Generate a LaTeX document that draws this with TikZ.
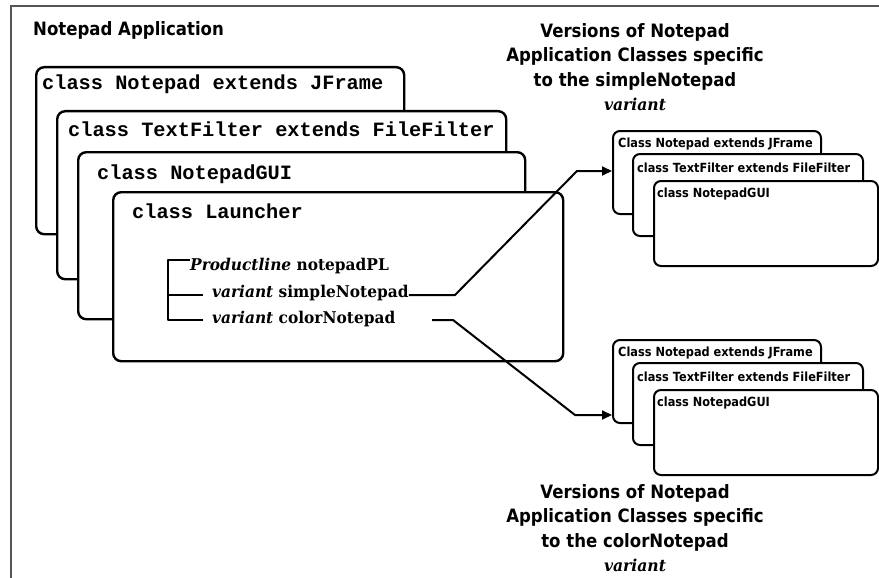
\documentclass[tikz,border=0pt]{standalone}
\usepackage{fontspec}
\usetikzlibrary{arrows.meta}
\newfontfamily\uifont{DejaVu Sans}[FakeStretch=0.9]
\newfontfamily\codefont{Liberation Mono}
\newfontfamily\treefont{DejaVu Serif}[FakeStretch=0.95]
\definecolor{framegray}{HTML}{555555}
\tikzset{
  bigbox/.style={draw, fill=white, line width=2.4pt, rounded corners=8pt,
    anchor=north west, inner sep=0pt},
  smallbox/.style={draw, fill=white, line width=2pt, rounded corners=7pt,
    anchor=north west, inner sep=0pt},
  codelabel/.style={anchor=base west, inner sep=0pt,
    font=\codefont\bfseries\fontsize{20.3}{24}\selectfont},
  smalllabel/.style={anchor=base west, inner sep=0pt,
    font=\uifont\bfseries\fontsize{12.6}{15}\selectfont},
  treelabel/.style={anchor=base west, inner sep=0pt,
    font=\treefont\bfseries\fontsize{16.2}{22}\selectfont},
  heading/.style={inner sep=0pt,
    font=\uifont\bfseries\fontsize{18.4}{24.6}\selectfont},
  conn/.style={line width=2pt, line join=round},
  arr/.style={conn, -{Triangle[length=10pt,width=9pt]}},
}
\newcommand{\varword}{{\treefont\bfseries\itshape\fontsize{16.4}{24.6}\selectfont variant}}
\begin{document}
\begin{tikzpicture}[x=1pt, y=-1pt]
  \useasboundingbox (0,0) rectangle (879,578);

  % outer frame (only top and left edges fall inside the page)
  \draw[framegray, line width=2pt] (11,578) -- (11,6) -- (879,6);
  \node[heading, anchor=base west] (apptitle) at (33,36) {Notepad Application};

  % stacked class boxes of the application
  \node[bigbox, minimum width=368pt, minimum height=167pt] (b1) at (35,66) {};
  \node[codelabel] (b1t) at (42,89) {class Notepad extends JFrame};
  \node[bigbox, minimum width=449pt, minimum height=168pt] (b2) at (56,110) {};
  \node[codelabel] (b2t) at (68,136) {class TextFilter extends FileFilter};
  \node[bigbox, minimum width=447pt, minimum height=167pt] (b3) at (77,151) {};
  \node[codelabel] (b3t) at (97,179) {class NotepadGUI};
  \node[bigbox, minimum width=450pt, minimum height=169pt] (b4) at (112,191) {};
  \node[codelabel] (b4t) at (132,218) {class Launcher};

  % product line tree inside the launcher
  \node[treelabel] (pl) at (190,270) {\itshape Productline\/\upshape{} notepadPL};
  \node[treelabel] (vs) at (212,297) {\textit{variant} simpleNotepad};
  \node[treelabel] (vc) at (212,323) {\textit{variant} colorNotepad};
  \coordinate (tt) at (168,260);
  \coordinate (tm) at (168,295);
  \coordinate (tb) at (168,320);
  \draw[conn] (tt -| pl.west) -- (tt) -- (tb) -- ([xshift=-9pt]tb -| vc.west);
  \draw[conn] (tm) -- ([xshift=-9pt]tm -| vs.west);

  % simpleNotepad variant classes
  \node[smallbox, minimum width=208pt, minimum height=83pt] (sA) at (612,130) {};
  \node[smalllabel] (sAt) at (618,147) {Class Notepad extends JFrame};
  \node[smallbox, minimum width=230pt, minimum height=82pt] (sB) at (632,153) {};
  \node[smalllabel] (sBt) at (637,172) {class TextFilter extends FileFilter};
  \node[smallbox, minimum width=224pt, minimum height=85pt] (sC) at (653,180) {};
  \node[smalllabel] (sCt) at (657,197) {class NotepadGUI};

  % colorNotepad variant classes
  \node[smallbox, minimum width=208pt, minimum height=83pt] (cA) at (612,339) {};
  \node[smalllabel] (cAt) at (618,356) {Class Notepad extends JFrame};
  \node[smallbox, minimum width=230pt, minimum height=82pt] (cB) at (632,362) {};
  \node[smalllabel] (cBt) at (637,381) {class TextFilter extends FileFilter};
  \node[smallbox, minimum width=224pt, minimum height=85pt] (cC) at (653,389) {};
  \node[smalllabel] (cCt) at (657,406) {class NotepadGUI};

  % connectors from the variants to their class sets
  \coordinate (s1) at (455,295);
  \coordinate (s2) at (577,171);
  \draw[arr] (vs.east |- s1) -- (s1) -- (s2) -- (s2 -| sA.west);
  \coordinate (c0) at (432,320);
  \coordinate (c1) at (453,320);
  \coordinate (c2) at (575,415);
  \draw[arr] (c0) -- (c1) -- (c2) -- (c2 -| cA.west);

  % headings of the variant class sets
  \node[heading, align=center, anchor=north] (simplehead) at (635,23)
    {Versions of Notepad\\Application Classes specific\\to the simpleNotepad\\\varword};
  \node[heading, align=center, anchor=north] (colorhead) at (635,484)
    {Versions of Notepad\\Application Classes specific\\to the colorNotepad\\\varword};
\end{tikzpicture}
\end{document}
